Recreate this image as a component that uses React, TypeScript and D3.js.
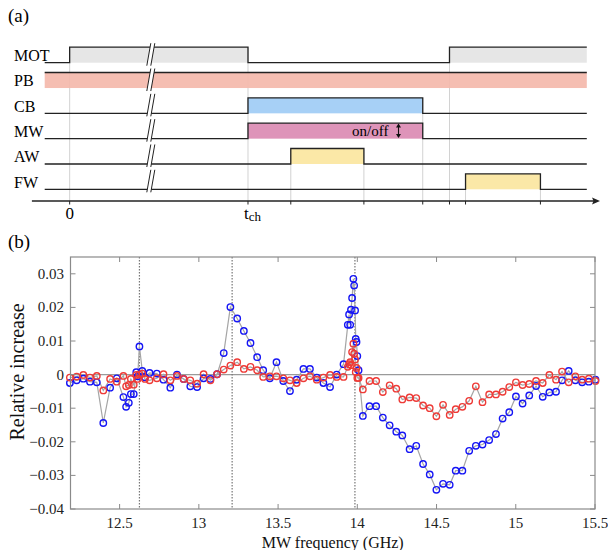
import React from 'react'
import * as d3 from 'd3'

// ---- panel (a): timing sequence (schematic time units) ----
const channels = ['MOT', 'PB', 'CB', 'MW', 'AW', 'FW']
const motPulses = [[0, 10], [21.3, 29]]
const pbPulses = [[-1.4, 29]]
const cbPulses = [[10, 19.8]]
const mwPulses = [[10, 19.8]]
const awPulses = [[12.4, 16.5]]
const fwPulses = [[22.2, 26.4]]
const pulseFills = ['#e6e6e6', '#f4b8ab', '#a7d0f6', '#de94b9', '#fbe8a7', '#fbe8a7']
const guideTimes = [0, 10, 12.4, 16.5, 19.8, 21.3, 22.2, 26.4]
const guideFrom = ['MOT', 'MOT', 'AW', 'AW', 'CB', 'MOT', 'FW', 'FW']
const breakTime = 4.55

// ---- panel (b): relative increase vs MW frequency ----
const freq = [
  12.186, 12.229, 12.271, 12.313, 12.356, 12.397, 12.44, 12.482, 12.524, 12.541,
  12.558, 12.571, 12.589, 12.605, 12.614, 12.625, 12.643, 12.66, 12.689, 12.735,
  12.777, 12.82, 12.862, 12.904, 12.946, 12.989, 13.03, 13.073, 13.115, 13.157,
  13.199, 13.242, 13.284, 13.326, 13.368, 13.406, 13.448, 13.49, 13.533, 13.575,
  13.617, 13.66, 13.701, 13.744, 13.786, 13.828, 13.87, 13.913, 13.94, 13.948,
  13.955, 13.96, 13.967, 13.975, 13.98, 13.986, 13.99, 13.995, 14.0, 14.008,
  14.035, 14.077, 14.119, 14.161, 14.204, 14.246, 14.284, 14.33, 14.372, 14.415,
  14.457, 14.499, 14.541, 14.583, 14.621, 14.663, 14.706, 14.748, 14.79, 14.832,
  14.875, 14.917, 14.959, 15.001, 15.043, 15.085, 15.128, 15.17, 15.212, 15.254,
  15.292, 15.334, 15.376, 15.419, 15.461, 15.503
]
const mwOn = [
  -0.0025, -0.0017, -0.0012, -0.0021, -0.0023, -0.0144, -0.0039, -0.0011, -0.0067, -0.0096,
  -0.0084, -0.0058, -0.0058, 0.0007, -0.0005, 0.0084, 0.0011, -0.0008, 0.0005, 0.0003,
  -0.0015, -0.0039, 0.0, -0.0013, -0.0035, -0.0037, -0.0011, -0.0013, 0.0001, 0.0064,
  0.0201, 0.0167, 0.013, 0.0094, 0.0052, 0.0013, -0.0011, 0.0037, -0.0019, -0.0049,
  -0.0015, 0.0017, 0.0017, -0.0009, -0.0025, -0.0037, 0.0, 0.0031, 0.0148, 0.0179,
  0.0148, 0.0193, 0.0228, 0.0285, 0.0265, 0.0191, 0.0106, 0.0097, 0.0055, 0.0013,
  -0.0123, -0.0094, -0.0094, -0.0128, -0.0151, -0.017, -0.0181, -0.0222, -0.0212, -0.0266,
  -0.0297, -0.0343, -0.0325, -0.0328, -0.0286, -0.0286, -0.0227, -0.0212, -0.0208, -0.0195,
  -0.0177, -0.0131, -0.0112, -0.0065, -0.0086, -0.0062, -0.0034, -0.0066, -0.0053, -0.0051,
  -0.0017, 0.0011, -0.0017, -0.0023, -0.0021, -0.0015
]
const mwOff = [
  -0.0009, -0.0006, -0.0001, -0.0009, -0.0004, -0.0047, -0.0013, -0.0021, -0.0004, -0.0035,
  -0.0031, -0.0013, -0.003, -0.0001, -0.0013, 0.0, 0.0003, -0.0013, -0.0017, -0.0011,
  0.0001, -0.0017, -0.0004, -0.0013, -0.0017, -0.0027, 0.0001, -0.0017, 0.0001, 0.0015,
  0.0027, 0.0037, 0.0017, 0.0023, 0.0013, -0.0007, -0.0005, -0.0005, -0.0011, -0.0017,
  -0.0025, -0.0011, -0.0005, -0.0015, -0.0009, -0.0001, -0.0007, -0.0007, 0.0023, 0.0031,
  0.0037, 0.0028, 0.0067, 0.0092, 0.0062, 0.0045, 0.0008, 0.002, -0.001, -0.001,
  -0.0044, -0.0019, -0.0019, -0.0052, -0.0032, -0.0042, -0.0074, -0.0068, -0.007, -0.0092,
  -0.01, -0.0124, -0.009, -0.012, -0.0103, -0.0096, -0.0078, -0.0035, -0.0082, -0.0059,
  -0.0059, -0.0051, -0.0037, -0.0023, -0.0031, -0.0028, -0.0019, -0.0025, -0.0001, -0.0015,
  0.0009, -0.0023, -0.0005, -0.0015, -0.0012, -0.0019
]
const resonances = [12.625, 13.21, 13.985]
const xTicks = [12.5, 13, 13.5, 14, 14.5, 15, 15.5]
const yTicks = [-0.04, -0.03, -0.02, -0.01, 0, 0.01, 0.02, 0.03]

const serif = { fontFamily: 'Liberation Serif, Times New Roman, Times, serif' }

function TimingPanel() {
  const t = d3.scaleLinear().domain([-1.4, 29]).range([44.7, 586.8])
  const low = d3.scalePoint().domain(channels).range([62.7, 189.3])
  const high = 15.5
  const axisY = 201
  const pulses = [motPulses, pbPulses, cbPulses, mwPulses, awPulses, fwPulses]
  const bx = t(breakTime)

  return (
    <g>
      <text x={8} y={22} fontSize={19} style={serif}>(a)</text>
      {/* guide lines */}
      {guideTimes.map((g, i) => (
        <line key={'g' + i} x1={t(g)} x2={t(g)} y1={low(guideFrom[i])! - high} y2={axisY}
          stroke="#d2d2d2" strokeWidth={1} />
      ))}
      {channels.map((c, ci) => {
        const y0 = low(c)!
        const y1 = y0 - high
        const ps = pulses[ci]
        if (c === 'PB') {
          return (
            <g key={c}>
              <rect x={t(-1.4)} y={y1 - 0.5} width={t(29) - t(-1.4)} height={high + 0.5}
                fill={pulseFills[ci]} opacity={0.92} />
              <line x1={t(-1.4)} x2={t(29)} y1={y1} y2={y1} stroke="#222" strokeWidth={1.3} />
            </g>
          )
        }
        let d = `M${t(-1.4)},${y0}`
        ps.forEach(([a, b]) => {
          d += `L${t(a)},${y0}L${t(a)},${y1}L${t(b)},${y1}`
          if (b < 29) d += `L${t(b)},${y0}`
        })
        if (ps[ps.length - 1][1] < 29) d += `L${t(29)},${y0}`
        return (
          <g key={c}>
            {ps.map(([a, b], k) => (
              <rect key={k} x={t(a)} y={y1} width={t(b) - t(a)} height={high}
                fill={pulseFills[ci]} />
            ))}
            <path d={d} fill="none" stroke="#222" strokeWidth={1.3} />
          </g>
        )
      })}
      {/* break marks */}
      {channels.map((c) => {
        const y0 = low(c)! + 3
        const y1 = low(c)! - high - 4
        return (
          <g key={'b' + c}>
            <polygon points={`${bx - 4},${y0} ${bx},${y0} ${bx + 4},${y1} ${bx},${y1}`}
              fill="#fff" />
            <line x1={bx - 4} y1={y0} x2={bx} y2={y1} stroke="#222" strokeWidth={1} />
            <line x1={bx} y1={y0} x2={bx + 4} y2={y1} stroke="#222" strokeWidth={1} />
          </g>
        )
      })}
      {channels.map((c) => (
        <text key={'l' + c} x={14} y={low(c)! - high / 2 + 6} fontSize={16}
          style={serif}>{c}</text>
      ))}
      <text x={352} y={136} fontSize={15} style={serif}>on/off</text>
      <line x1={398.5} x2={398.5} y1={124.5} y2={137} stroke="#111" strokeWidth={1.1} />
      <path d="M396,127.5L398.5,123.5L401,127.5Z M396,134L398.5,138L401,134Z" fill="#111" />
      {/* time axis */}
      <line x1={31.9} x2={594} y1={axisY} y2={axisY} stroke="#222" strokeWidth={1.3} />
      <path d={`M600,${axisY}L592,${axisY - 3.5}L593.5,${axisY}L592,${axisY + 3.5}Z`} fill="#222" />
      {guideTimes.map((g, i) => (
        <line key={'tk' + i} x1={t(g)} x2={t(g)} y1={axisY} y2={axisY + 3.5}
          stroke="#222" strokeWidth={1} />
      ))}
      <text x={t(0)} y={219} fontSize={17} style={serif} textAnchor="middle">0</text>
      <text x={t(10) - 4} y={219} fontSize={17} style={serif}>t
        <tspan fontSize={13} dy={2}>ch</tspan>
      </text>
    </g>
  )
}

function SpectrumPanel() {
  const left = 70.5, right = 595, top = 257, bottom = 509
  const x = d3.scaleLinear().domain([12.19, 15.5]).range([left, right])
  const y = d3.scaleLinear().domain([-0.04, 0.035]).range([bottom, top])
  const line = d3.line<number>().x((_, i) => x(freq[i])).y((v) => y(v))
  const axisCol = '#8a8a8a'
  const tick = 5

  return (
    <g>
      <text x={8} y={248} fontSize={19} style={serif}>(b)</text>
      <line x1={left} x2={right} y1={y(0)} y2={y(0)} stroke="#9a9a9a" strokeWidth={1.1} />
      {resonances.map((r, i) => (
        <line key={'r' + i} x1={x(r)} x2={x(r)} y1={top} y2={bottom}
          stroke="#777" strokeWidth={1.2} strokeDasharray="1.5,1.5" />
      ))}
      <path d={line(mwOn)!} fill="none" stroke="#a5a5a5" strokeWidth={1.2} />
      <path d={line(mwOff)!} fill="none" stroke="#a5a5a5" strokeWidth={1.2} />
      {mwOn.map((v, i) => (
        <circle key={'b' + i} cx={x(freq[i])} cy={y(v)} r={3.2} fill="none"
          stroke="#1515f5" strokeWidth={1.4} />
      ))}
      {mwOff.map((v, i) => (
        <circle key={'o' + i} cx={x(freq[i])} cy={y(v)} r={3.2} fill="none"
          stroke="#ee3a36" strokeWidth={1.4} />
      ))}
      {/* frame */}
      <rect x={left} y={top} width={right - left} height={bottom - top} fill="none"
        stroke={axisCol} strokeWidth={1.2} />
      {xTicks.map((v) => (
        <g key={'x' + v}>
          <line x1={x(v)} x2={x(v)} y1={bottom} y2={bottom - tick} stroke={axisCol} />
          <line x1={x(v)} x2={x(v)} y1={top} y2={top + tick} stroke={axisCol} />
          <text x={x(v)} y={528} fontSize={15} style={serif} textAnchor="middle"
            fill="#222">{d3.format('')(v)}</text>
        </g>
      ))}
      {yTicks.map((v) => (
        <g key={'y' + v}>
          <line x1={left} x2={left + tick} y1={y(v)} y2={y(v)} stroke={axisCol} />
          <line x1={right} x2={right - tick} y1={y(v)} y2={y(v)} stroke={axisCol} />
          <text x={64} y={y(v) + 5} fontSize={15} style={serif} textAnchor="end"
            fill="#222">{v === 0 ? '0' : d3.format('.2f')(v)}</text>
        </g>
      ))}
      <text transform="translate(24,372) rotate(-90)" fontSize={20}
        style={serif} textAnchor="middle" fill="#111">Relative increase</text>
      <text x={(left + right) / 2} y={548} fontSize={16} style={serif}
        textAnchor="middle" fill="#111">MW frequency (GHz)</text>
    </g>
  )
}

export default function App() {
  return (
    <svg width={608} height={550} viewBox="0 0 608 550"
      style={{ position: 'absolute', left: 0, top: 0, background: '#fff' }}>
      <rect width={608} height={550} fill="#fff" />
      <TimingPanel />
      <SpectrumPanel />
    </svg>
  )
}
